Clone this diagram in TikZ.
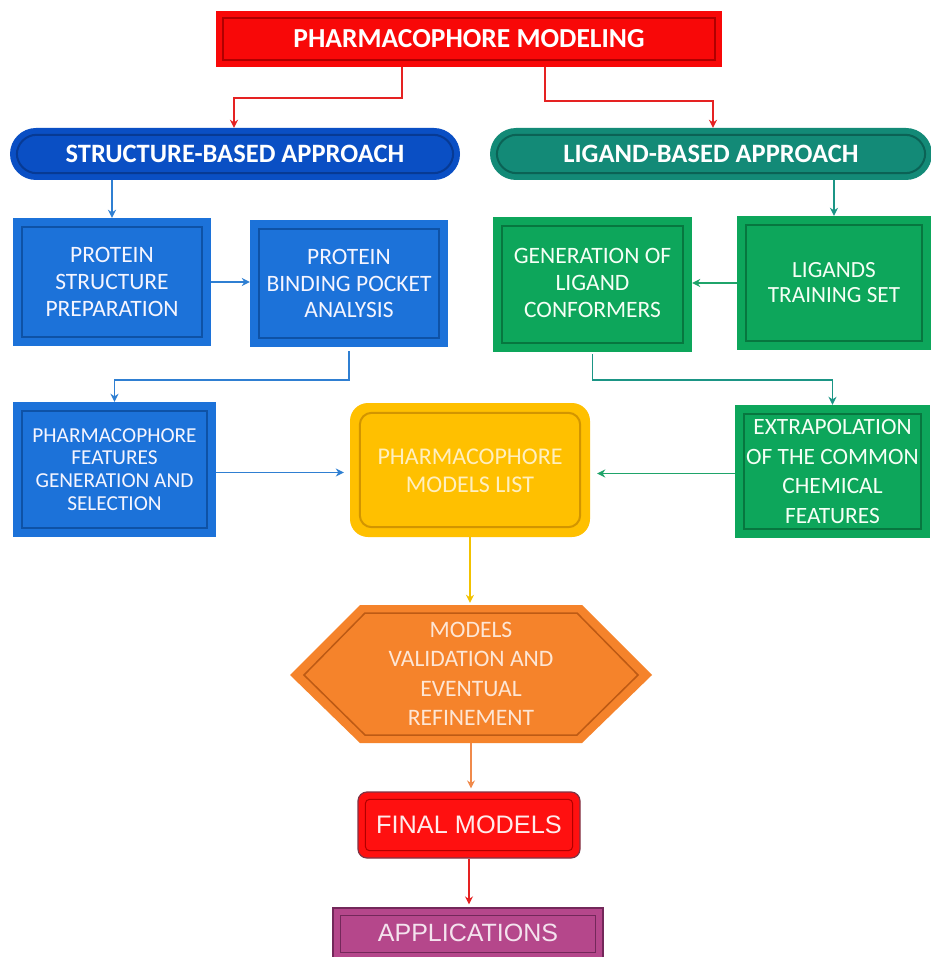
\documentclass[tikz,border=0pt]{standalone}
\usepackage{fontspec}
\setmainfont{Carlito}
\newfontfamily\arialf{Liberation Sans}
\usetikzlibrary{arrows.meta,calc}
\definecolor{tred}{HTML}{F80808}
\definecolor{tredd}{HTML}{B00000}
\definecolor{sblue}{HTML}{0A4FC4}
\definecolor{sblued}{HTML}{073A94}
\definecolor{lteal}{HTML}{138A77}
\definecolor{ltealdd}{HTML}{0B6255}
\definecolor{bblue}{HTML}{1C72D9}
\definecolor{bblued}{HTML}{0E52A6}
\definecolor{ggreen}{HTML}{0DA65B}
\definecolor{ggreend}{HTML}{07773F}
\definecolor{yel}{HTML}{FFC000}
\definecolor{yeld}{HTML}{D29500}
\definecolor{orng}{HTML}{F5832B}
\definecolor{orngd}{HTML}{BD5A14}
\definecolor{fred}{HTML}{FF1010}
\definecolor{fredd}{HTML}{7E3446}
\definecolor{mag}{HTML}{B5478B}
\definecolor{magd}{HTML}{73285A}
\definecolor{arred}{HTML}{E52222}
\definecolor{arblue}{HTML}{2F7FD2}
\definecolor{arteal}{HTML}{1B9585}
\definecolor{argreen}{HTML}{1FA46A}
\definecolor{aryel}{HTML}{F2C200}
\definecolor{arorng}{HTML}{F08A4B}
\tikzset{
  base/.style={align=center, inner sep=0pt, text=white},
  boxtxt/.style={font=\fontsize{23.5}{26.7}\selectfont},
  conn/.style={line width=1.6pt, -{Stealth[length=8pt,width=8pt]}},
  inner/.style={line width=2pt},
}
\newcommand\innerrect[3]{%
  \draw[inner,#3] ([shift={(#2,#2)}]#1.north west) rectangle ([shift={(-#2,-#2)}]#1.south east);}
\begin{document}
\begin{tikzpicture}[x=1pt,y=-1pt]
\useasboundingbox[fill=white] (0,0) rectangle (930,957);
% title
\node[base, fill=tred, minimum width=506pt, minimum height=56pt] (title) at (469,39) {};
\innerrect{title}{7}{tredd}
\node[base, font=\bfseries\fontsize{27.5}{30}\selectfont] at (title) {PHARMACOPHORE MODELING};
% approaches
\node[base, fill=sblue, rounded corners=26pt, minimum width=450pt, minimum height=52pt] (sba) at (235,154) {};
\draw[inner, sblued, rounded corners=20pt] ([shift={(7,7)}]sba.north west) rectangle ([shift={(-7,-7)}]sba.south east);
\node[base, font=\bfseries\fontsize{26.5}{28}\selectfont] at (sba) {STRUCTURE-BASED APPROACH};
\node[base, fill=lteal, rounded corners=26pt, minimum width=442pt, minimum height=52pt] (lba) at (711,154) {};
\draw[inner, ltealdd, rounded corners=20pt] ([shift={(7,7)}]lba.north west) rectangle ([shift={(-7,-7)}]lba.south east);
\node[base, font=\bfseries\fontsize{26.5}{28}\selectfont] at (lba) {LIGAND-BASED APPROACH};
% blue boxes
\node[base, fill=bblue, minimum width=198pt, minimum height=128pt] (psp) at (112,282) {};
\innerrect{psp}{9}{bblued}
\node[base, boxtxt, text=blue!4] at (psp) {PROTEIN\\STRUCTURE\\PREPARATION};
\node[base, fill=bblue, minimum width=198pt, minimum height=127pt] (pbp) at (349,283.5) {};
\innerrect{pbp}{9}{bblued}
\node[base, boxtxt, text=blue!4] at (pbp) {PROTEIN\\BINDING POCKET\\ANALYSIS};
\node[base, fill=bblue, minimum width=203pt, minimum height=135pt] (pf) at (114.5,469.5) {};
\innerrect{pf}{9}{bblued}
\node[base, font=\fontsize{21.3}{22.7}\selectfont, text=blue!4] at (pf) {PHARMACOPHORE\\FEATURES\\GENERATION AND\\SELECTION};
% green boxes
\node[base, fill=ggreen, minimum width=199pt, minimum height=135pt] (glc) at (592.5,284.5) {};
\innerrect{glc}{9}{ggreend}
\node[base, boxtxt, text=green!4] at ([yshift=1.5pt]glc.center) {GENERATION OF\\LIGAND\\CONFORMERS};
\node[base, fill=ggreen, minimum width=194pt, minimum height=134pt] (lts) at (834,283) {};
\innerrect{lts}{9}{ggreend}
\node[base, font=\fontsize{23.2}{25}\selectfont, text=green!4] at (lts) {LIGANDS\\TRAINING SET};
\node[base, fill=ggreen, minimum width=195pt, minimum height=133pt] (ext) at (832.5,471.5) {};
\innerrect{ext}{9}{ggreend}
\node[base, font=\fontsize{23.4}{29.5}\selectfont, text=green!4] at (ext) {EXTRAPOLATION\\OF THE COMMON\\CHEMICAL\\FEATURES};
% models list
\node[base, fill=yel, rounded corners=18pt, minimum width=240pt, minimum height=134pt] (ml) at (470,470) {};
\draw[inner, yeld, rounded corners=12pt] ([shift={(10,10)}]ml.north west) rectangle ([shift={(-10,-10)}]ml.south east);
\node[base, font=\fontsize{24}{28}\selectfont, text=yel!25] at ([yshift=-1pt]ml.center) {PHARMACOPHORE\\MODELS LIST};
% hexagon
\fill[orng] (290,675) -- (360,605) -- (582,605) -- (652,675) -- (582,743) -- (360,743) -- cycle;
\draw[inner, orngd, line width=1.5pt] (304,675) -- (365,613) -- (577,613) -- (638,675) -- (577,735) -- (365,735) -- cycle;
\node[base, font=\fontsize{23.6}{29.4}\selectfont, text=orng!20, minimum width=362pt, minimum height=138pt] (hex) at (471,674) {MODELS\\VALIDATION AND\\EVENTUAL\\REFINEMENT};
% final models
\node[base, fill=fred, draw=fredd, line width=1.2pt, rounded corners=9pt, minimum width=222pt, minimum height=66pt] (fm) at (469,825) {};
\draw[line width=1pt, red!70!black, rounded corners=4pt] ([shift={(8,8)}]fm.north west) rectangle ([shift={(-8,-8)}]fm.south east);
\node[base, font=\arialf\fontsize{25.3}{28}\selectfont, text=red!8] at (fm) {FINAL MODELS};
% applications
\node[base, fill=mag, draw=magd, line width=1.2pt, minimum width=270pt, minimum height=52pt] (app) at (468,934) {};
\draw[inner, magd, line width=1.5pt] ([shift={(8,8)}]app.north west) rectangle ([shift={(-8,-8)}]app.south east);
\node[base, font=\arialf\fontsize{25}{28}\selectfont, text=mag!15] at ([yshift=1pt]app.center) {APPLICATIONS};
% connectors
\draw[conn, arred] ([xshift=-67pt]title.south) -- ++(0,31) -| ([xshift=-1pt]sba.north);
\draw[conn, arred] ([xshift=76pt]title.south) -- ++(0,34) -| ([xshift=2pt]lba.north);
\draw[conn, arblue] (sba.south -| psp.north) -- (psp.north);
\draw[conn, arteal] (lba.south -| lts.north) -- (lts.north);
\draw[conn, arblue] (psp.east) -- (psp.east -| pbp.west);
\draw[conn, arblue] ([yshift=-4pt]pbp.south) -- ++(0,29) -| (pf.north);
\draw[conn, arblue, shorten >=6pt] ([yshift=-3pt]pf.east) -- ([yshift=-3pt]pf.east -| ml.west);
\draw[conn, argreen] (lts.west) -- (lts.west -| glc.east);
\draw[conn, arteal] ([yshift=-2pt]glc.south) -- ++(0,26) -| (ext.north);
\draw[conn, argreen, shorten >=7pt] ([yshift=-2pt]ext.west) -- ([yshift=-2pt]ext.west -| ml.east);
\draw[conn, aryel, shorten >=2pt] (ml.south) -- (ml.south |- hex.north);
\draw[conn, arorng, shorten >=3pt] (hex.south) -- (hex.south |- fm.north);
\draw[conn, arred, shorten >=3pt] (fm.south) -- (fm.south |- app.north);
\end{tikzpicture}
\end{document}
